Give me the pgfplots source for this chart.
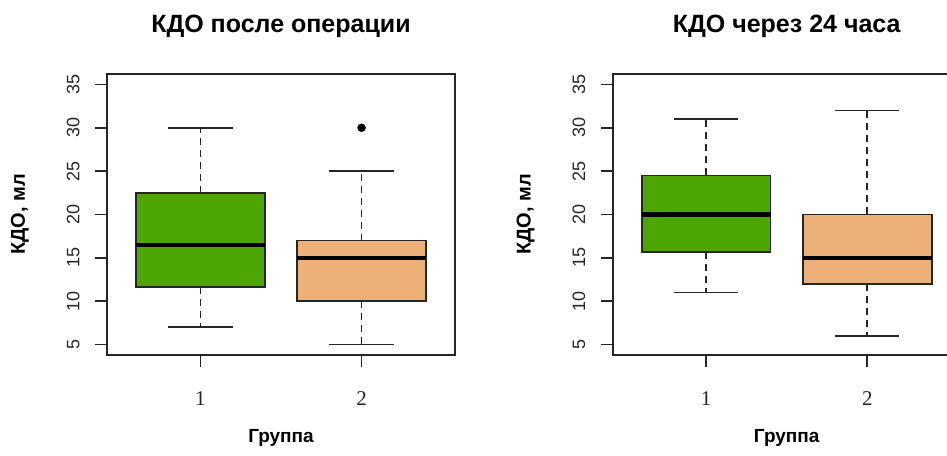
\documentclass[border=0pt]{standalone}
\usepackage{fontspec}
\setmainfont{Liberation Sans}
\newfontfamily\serifnum{Liberation Serif}
\usepackage{pgfplots}
\pgfplotsset{compat=1.18}
\definecolor{boxgreen}{HTML}{4DA603}
\definecolor{boxtan}{HTML}{EEB079}
\definecolor{rline}{HTML}{262626}
\pgfplotsset{
  rbox/.style={
    width=348pt, height=281pt, scale only axis,
    xmin=0.42, xmax=2.58, ymin=3.8, ymax=36.2,
    axis line style={line width=1.8pt, draw=rline},
    xtick={1,2}, xticklabels={1,2},
    ytick={5,10,15,20,25,30,35},
    tick align=outside, major tick length=12pt,
    xtick pos=bottom, ytick pos=left,
    tick style={line width=1.8pt, draw=rline},
    /pgf/number format/assume math mode=true,
    xticklabel style={font=\serifnum\fontsize{21}{21}\selectfont, anchor=base, inner sep=0pt, yshift=-38pt, text=rline},
    yticklabel style={font=\fontsize{18}{18}\selectfont, rotate=90, anchor=base, inner sep=0pt, text=rline},
    yticklabel shift=15.5pt,
    every axis title/.style={at={(0.5,1)}, anchor=base, yshift=41pt, inner sep=0pt, font=\bfseries\fontsize{25}{25}\selectfont},
    every axis x label/.style={at={(axis description cs:0.5,0)}, anchor=base, yshift=-87pt, inner sep=0pt, font=\bfseries\fontsize{19}{19}\selectfont},
    every axis y label/.style={at={(axis description cs:0,0.5)}, xshift=-82pt, rotate=90, anchor=base, inner sep=0pt, font=\bfseries\fontsize{20}{20}\selectfont},
    xlabel={Группа}, ylabel={КДО, мл},
  },
  whisk/.style={line width=1.8pt, rline, dash pattern=on 7pt off 5pt, forget plot},
  cap/.style={line width=1.8pt, rline, forget plot},
  boxr/.style={line width=1.8pt, draw=rline, fill=#1, forget plot},
  med/.style={line width=4.5pt, black, forget plot},
}
\begin{document}
\begin{tikzpicture}
% ---------- left panel ----------
\begin{axis}[rbox, at={(107pt,100pt)}, anchor=south west, title={КДО после операции}]
% group 1: lw=7, lq=11.6, med=16.5, uq=22.5, uw=30
\addplot[whisk] coordinates {(1,22.5) (1,30)};
\addplot[whisk] coordinates {(1,11.6) (1,7)};
\addplot[cap] coordinates {(0.8,30) (1.2,30)};
\addplot[cap] coordinates {(0.8,7) (1.2,7)};
\addplot[boxr=boxgreen] coordinates {(0.6,11.6) (1.4,11.6) (1.4,22.5) (0.6,22.5)} -- cycle;
\addplot[med] coordinates {(0.6,16.5) (1.4,16.5)};
% group 2: lw=5, lq=10, med=15, uq=17, uw=25, outlier 30
\addplot[whisk] coordinates {(2,17) (2,25)};
\addplot[whisk] coordinates {(2,10) (2,5)};
\addplot[cap] coordinates {(1.8,25) (2.2,25)};
\addplot[cap] coordinates {(1.8,5) (2.2,5)};
\addplot[boxr=boxtan] coordinates {(1.6,10) (2.4,10) (2.4,17) (1.6,17)} -- cycle;
\addplot[med] coordinates {(1.6,15) (2.4,15)};
\addplot[only marks, mark=*, mark size=4pt, black, forget plot] coordinates {(2,30)};
\end{axis}
% ---------- right panel ----------
\begin{axis}[rbox, at={(612.7pt,100pt)}, anchor=south west, title={КДО через 24 часа}]
% group 1: lw=11, lq=15.7, med=20, uq=24.5, uw=31
\addplot[whisk] coordinates {(1,24.5) (1,31)};
\addplot[whisk] coordinates {(1,15.7) (1,11)};
\addplot[cap] coordinates {(0.8,31) (1.2,31)};
\addplot[cap] coordinates {(0.8,11) (1.2,11)};
\addplot[boxr=boxgreen] coordinates {(0.6,15.7) (1.4,15.7) (1.4,24.5) (0.6,24.5)} -- cycle;
\addplot[med] coordinates {(0.6,20) (1.4,20)};
% group 2: lw=6, lq=12, med=15, uq=20, uw=32
\addplot[whisk] coordinates {(2,20) (2,32)};
\addplot[whisk] coordinates {(2,12) (2,6)};
\addplot[cap] coordinates {(1.8,32) (2.2,32)};
\addplot[cap] coordinates {(1.8,6) (2.2,6)};
\addplot[boxr=boxtan] coordinates {(1.6,12) (2.4,12) (2.4,20) (1.6,20)} -- cycle;
\addplot[med] coordinates {(1.6,15) (2.4,15)};
\end{axis}
\pgfresetboundingbox
\path[use as bounding box] (0pt,0pt) rectangle (947pt,455pt);
\end{tikzpicture}
\end{document}
